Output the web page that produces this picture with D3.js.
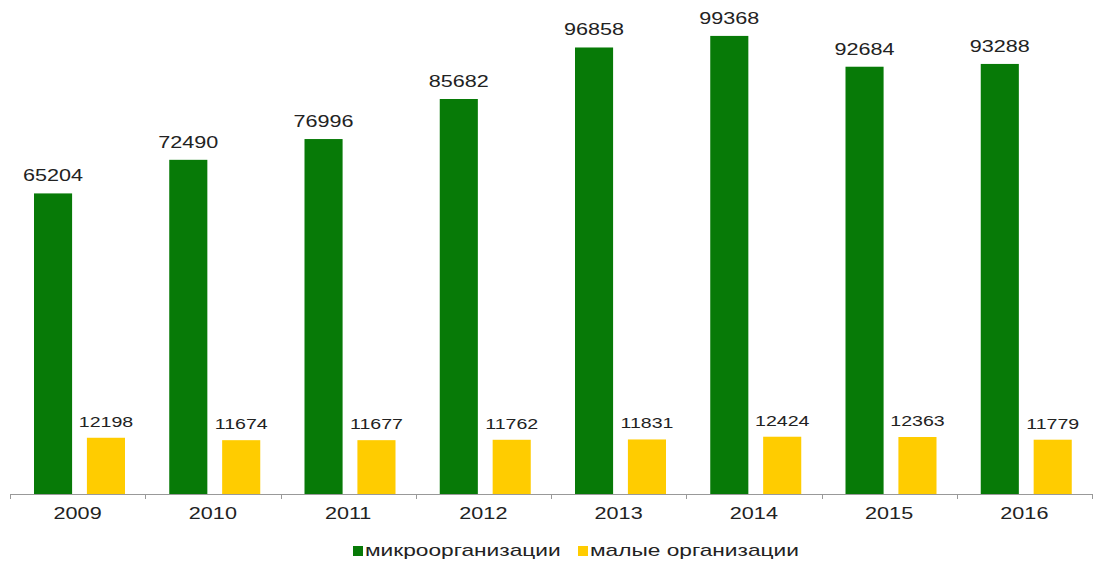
<!DOCTYPE html>
<html><head><meta charset="utf-8">
<script src="https://cdnjs.cloudflare.com/ajax/libs/d3/7.8.5/d3.min.js"></script>
<style>body{margin:0;background:#fff}svg{display:block}text{font-family:"Liberation Sans",Arial,sans-serif}</style>
</head><body><svg id="c" width="1093" height="562"></svg>
<script>
const years = ["2009","2010","2011","2012","2013","2014","2015","2016"];
const seriesNames = ["микроорганизации","малые организации"];
const micro = [65204,72490,76996,85682,96858,99368,92684,93288];
const small = [12198,11674,11677,11762,11831,12424,12363,11779];
const colors = ["#077a07","#ffcc00"];

const svg = d3.select("#c");
const SX = 1.35;
const x = d3.scaleBand().domain(years).range([10,1092]).padding(0);
const xs = d3.scaleBand().domain(seriesNames).range([24,115]).paddingInner(0.28).paddingOuter(0);
const y = d3.scaleLinear().domain([0,100000]).range([494,33]);

const data = [micro, small];
data.forEach((vals,si)=>{
  const g = svg.append("g");
  g.selectAll("rect").data(vals).join("rect")
    .attr("x",(d,i)=>x(years[i])+xs(seriesNames[si]))
    .attr("width",xs.bandwidth())
    .attr("y",d=>y(d)).attr("height",d=>y(0)-y(d))
    .attr("fill",colors[si]);
  g.selectAll("text").data(vals).join("text")
    .attr("transform",(d,i)=>`translate(${x(years[i])+xs(seriesNames[si])+xs.bandwidth()/2},${y(d)-(si===0?12:11)}) scale(${SX},1)`)
    .attr("text-anchor","middle")
    .attr("font-size",si===0?16:14.5)
    .attr("fill","#222")
    .text(d=>d);
});

// axis
const ax = svg.append("g");
ax.append("line").attr("x1",10).attr("x2",1093).attr("y1",494.5).attr("y2",494.5).attr("stroke","#999").attr("stroke-width",1.2);
const bounds = years.map(yv=>x(yv)).concat([x.range()[1]]);
ax.selectAll("line.t").data(bounds).join("line").attr("class","t")
  .attr("x1",d=>Math.round(d)+0.5).attr("x2",d=>Math.round(d)+0.5).attr("y1",494).attr("y2",499)
  .attr("stroke","#999");
ax.selectAll("text").data(years).join("text")
  .attr("transform",d=>`translate(${x(d)+x.bandwidth()/2},519) scale(${SX},1)`)
  .attr("text-anchor","middle").attr("font-size",16).attr("fill","#222").text(d=>d);

// legend
const leg = svg.append("g");
const legX = [353,578];
seriesNames.forEach((n,i)=>{
  leg.append("rect").attr("x",legX[i]).attr("y",546).attr("width",10).attr("height",10).attr("fill",colors[i]);
  leg.append("text").attr("transform",`translate(${legX[i]+12},556) scale(1.42,1)`)
    .attr("font-size",16).attr("fill","#222").text(n);
});
</script></body></html>
